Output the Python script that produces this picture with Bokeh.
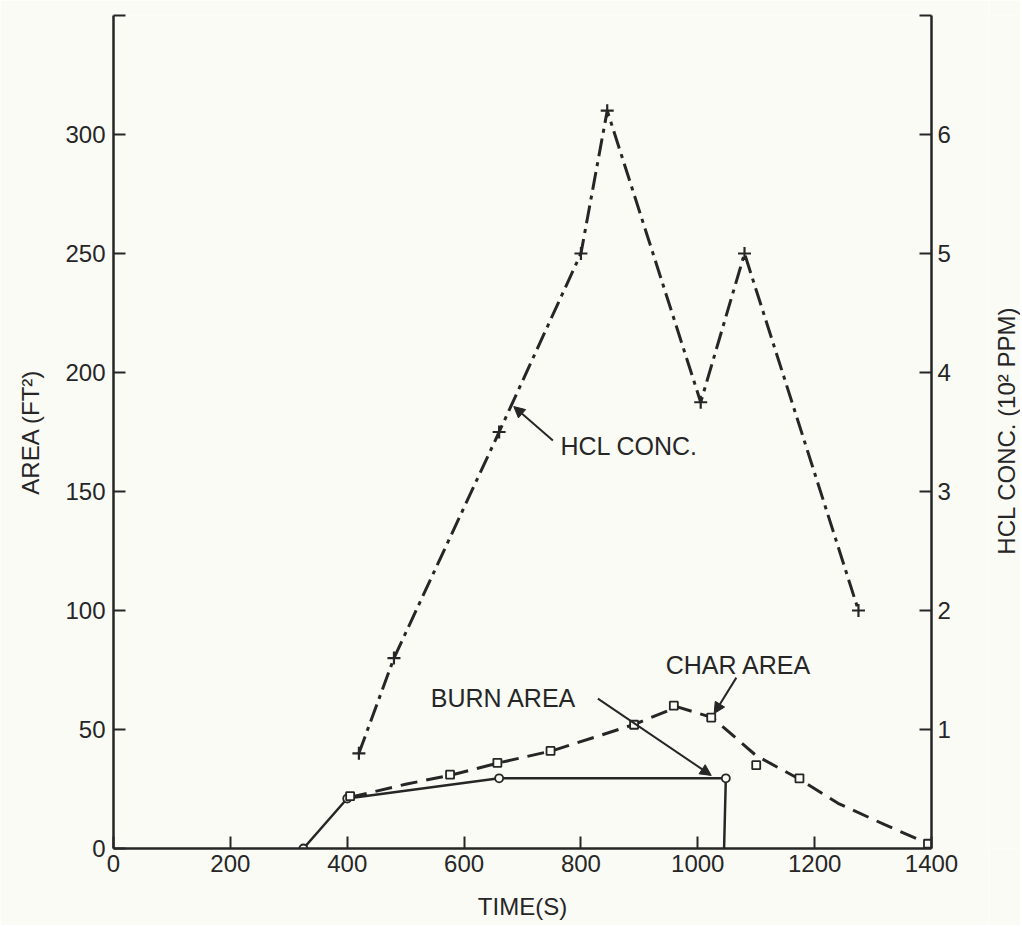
from math import pi
from bokeh.plotting import figure
from bokeh.layouts import row
from bokeh.models import Range1d, LinearAxis, FixedTicker, Label, Arrow, NormalHead
from bokeh.embed import file_html
from bokeh.resources import INLINE

# ---- data ----
time_ticks = [0, 200, 400, 600, 800, 1000, 1200, 1400]
area_ticks = [0, 50, 100, 150, 200, 250, 300, 350]
hcl_ticks = [1, 2, 3, 4, 5, 6, 7]

hcl_time = [420, 480, 660, 800, 845, 1005, 1080, 1275]
hcl_conc = [0.8, 1.6, 3.5, 5.0, 6.2, 3.75, 5.0, 2.0]

burn_time = [325, 400, 660, 1048, 1045]
burn_area = [0, 21, 29.5, 29.5, 0]
burn_mark_time = [325, 400, 660, 1048]
burn_mark_area = [0, 21, 29.5, 29.5]

char_time = [405, 576, 657, 748, 891, 959, 1023, 1100, 1174, 1394]
char_area = [22, 31, 36, 41, 52, 60, 55, 35, 29.5, 2]
char_curve_time = [405, 500, 580, 660, 750, 890, 965, 1025, 1100, 1175, 1240, 1320, 1395]
char_curve_area = [21.5, 27, 31, 36, 41, 52, 59.5, 55, 39, 29, 19, 10, 2]

# ---- styling ----
BG = "#fbfbf6"
INK = "#262626"
FONT = "Liberation Sans"
FS = "24px"
NOTE_FS = "25px"

W, H = 988, 925
SIDE_W = 32
LEFT, FRAME_W = 113, 818
TOP, FRAME_H = 15, 833

p = figure(width=W, height=H, output_backend="svg", toolbar_location=None,
           x_range=Range1d(0, 1400), y_range=Range1d(0, 350),
           min_border_left=LEFT, min_border_right=W - LEFT - FRAME_W,
           min_border_top=TOP, min_border_bottom=H - TOP - FRAME_H,
           background_fill_color=BG, border_fill_color=BG)
p.outline_line_color = None
p.grid.visible = False
p.extra_y_ranges = {"hcl": Range1d(0, 7)}

def style_axis(ax, ticks, overrides=None):
    ax.ticker = FixedTicker(ticks=ticks)
    ax.major_tick_in = 12
    ax.major_tick_out = 0
    ax.minor_tick_line_color = None
    ax.axis_line_width = 2.5
    ax.axis_line_color = INK
    ax.major_tick_line_width = 2
    ax.major_tick_line_color = INK
    ax.major_label_text_font = FONT
    ax.major_label_text_font_size = FS
    ax.major_label_text_color = INK
    ax.axis_label_text_font = FONT
    ax.axis_label_text_font_size = FS
    ax.axis_label_text_font_style = "normal"
    ax.axis_label_text_color = INK
    if overrides:
        ax.major_label_overrides = overrides

xa = p.xaxis[0]
style_axis(xa, time_ticks)
xa.major_label_standoff = 6
xa.axis_label = "TIME(S)"
xa.axis_label_standoff = 18

ya = p.yaxis[0]
style_axis(ya, area_ticks, {350: ""})
ya.major_label_standoff = 8
ya.axis_label = "AREA (FT²)"
ya.axis_label_standoff = 18

ra = LinearAxis(y_range_name="hcl")
style_axis(ra, hcl_ticks, {7: ""})
ra.major_label_standoff = 6
p.add_layout(ra, "right")

# ---- series ----
p.line(hcl_time, hcl_conc, y_range_name="hcl", line_color=INK, line_width=3,
       line_dash="18 6 4 6")
p.scatter(hcl_time, hcl_conc, y_range_name="hcl", marker="cross", size=13,
          line_color=INK, line_width=2.2)

p.line(burn_time, burn_area, line_color=INK, line_width=2.5)
p.scatter(burn_mark_time, burn_mark_area, marker="circle", size=8,
          line_color=INK, line_width=1.8, fill_color=BG)

p.line(char_curve_time, char_curve_area, line_color=INK, line_width=3,
       line_dash="17 9")
p.scatter(char_time, char_area, marker="square", size=8,
          line_color=INK, line_width=1.8, fill_color=BG)

# ---- annotations ----
def note(x, y, text):
    p.add_layout(Label(x=x, y=y, text=text, text_align="left",
                       text_baseline="middle", text_font=FONT,
                       text_font_size=NOTE_FS, text_color=INK))

def arrow(x0, y0, x1, y1):
    p.add_layout(Arrow(x_start=x0, y_start=y0, x_end=x1, y_end=y1,
                       line_color=INK, line_width=2,
                       end=NormalHead(size=11, fill_color=INK, line_color=INK)))

note(765, 169, "HCL CONC.")
arrow(752, 171.4, 685, 185.7)

note(543, 63.4, "BURN AREA")
arrow(829, 63, 1023, 30.7)

note(945, 77.3, "CHAR AREA")
arrow(1066, 71.8, 1028, 56.7)

# ---- right-hand axis title (reads bottom to top, as in the original) ----
side = figure(width=SIDE_W, height=H, output_backend="svg", toolbar_location=None,
              x_range=Range1d(0, SIDE_W), y_range=Range1d(0, H),
              x_axis_type=None, y_axis_type=None, min_border=0,
              background_fill_color=BG, border_fill_color=BG)
side.outline_line_color = None
side.grid.visible = False
side.add_layout(Label(x=SIDE_W / 2 + 2, y=H - 461, angle=pi / 2,
                      text="HCL CONC. (10² PPM)", text_align="center",
                      text_baseline="middle", text_font=FONT,
                      text_font_size=FS, text_color=INK))

layout = row(p, side, spacing=0)
open("out.html", "w").write(file_html(layout, INLINE))
